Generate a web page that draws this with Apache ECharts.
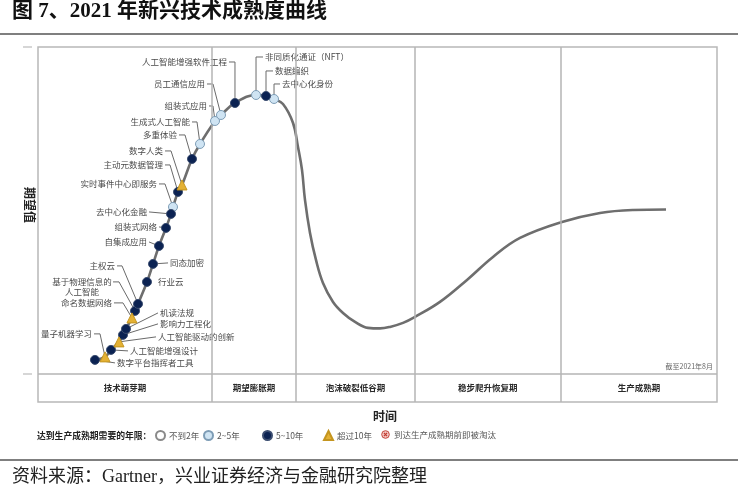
<!DOCTYPE html>
<html>
<head>
<meta charset="utf-8">
<script src="https://cdn.jsdelivr.net/npm/echarts@6/dist/echarts.min.js"></script>
<style>
  html, body { margin: 0; padding: 0; background: #fff; }
  #chart { width: 738px; height: 488px; }
</style>
</head>
<body>
<div id="chart"></div>
<script>
// Technologies on the 2021 hype cycle (time = x, expectation = y, both on a 0-100 scale)
const techNames = ['数字平台指挥者工具', '量子机器学习', '人工智能增强设计', '人工智能驱动的创新', '影响力工程化',
  '机读法规', '命名数据网络', '基于物理信息的人工智能', '主权云', '行业云', '同态加密', '自集成应用', '组装式网络',
  '去中心化金融', '实时事件中心即服务', '主动元数据管理', '数字人类', '多重体验', '生成式人工智能', '组装式应用',
  '员工通信应用', '人工智能增强软件工程', '非同质化通证（NFT）', '数据编织', '去中心化身份'];
const techX = [8.39, 9.87, 10.75, 11.93, 12.52, 12.96, 13.84, 14.29, 14.73, 16.05, 16.94, 17.82, 18.85,
  19.59, 19.88, 20.62, 21.21, 22.68, 23.86, 26.07, 26.95, 29.01, 32.11, 33.58, 34.76];
const techY = [4.28, 5.20, 7.34, 9.79, 11.93, 13.76, 17.13, 19.27, 21.41, 28.13, 33.64, 39.14, 44.65,
  48.93, 51.07, 55.66, 57.80, 65.75, 70.34, 77.37, 79.20, 82.87, 85.32, 85.02, 84.10];
// index into maturityLabels
const techCat = [2, 3, 2, 3, 2, 2, 3, 2, 2, 2, 2, 2, 2, 2, 1, 2, 3, 2, 1, 1, 1, 2, 1, 2, 1];
const maturityLabels = ['不到2年', '2~5年', '5~10年', '超过10年', '到达生产成熟期前即被淘汰'];

// The hype curve itself
const curveX = [8.39, 9.87, 10.75, 11.93, 12.52, 12.96, 13.84, 14.29, 14.73, 16.05, 16.94, 17.82, 18.85,
  19.59, 19.88, 20.62, 21.21, 22.68, 23.86, 26.07, 26.95, 29.01, 32.11, 33.58, 34.76,
  36.08, 37.56, 38.29, 38.88, 39.32, 40.06, 40.94, 41.97, 43.45, 44.92, 46.69,
  48.60, 50.37, 51.84, 53.76, 55.52, 59.20, 63.18, 67.01, 70.99,
  77.17, 82.77, 87.63, 92.49];
const curveY = [4.28, 5.20, 7.34, 9.79, 11.93, 13.76, 17.13, 19.27, 21.41, 28.13, 33.64, 39.14, 44.65,
  48.93, 51.07, 55.66, 57.80, 65.75, 70.34, 77.37, 79.20, 82.87, 85.32, 85.02, 84.10,
  82.57, 76.76, 69.42, 62.39, 53.21, 43.12, 34.86, 27.83, 22.02, 18.65, 15.90,
  14.07, 13.91, 14.37, 15.60, 17.43, 22.02, 28.75, 35.78, 41.59,
  46.48, 49.24, 50.15, 50.31];

// Phases along the time axis
const phaseNames = ['技术萌芽期', '期望膨胀期', '泡沫破裂低谷期', '稳步爬升恢复期', '生产成熟期'];
const phaseEdges = [0, 25.6, 38.0, 55.5, 77.0, 100];

// Label placement, in pixels relative to each marker: text anchor, alignment, leader line bends
const labelLayout = [
  { t: [22, 3], a: 'left', path: [[20, 3]] },
  { t: [-13, -23], a: 'right', path: [[-11, -23], [-5, -23]] },
  { t: [19, 1], a: 'left', path: [[17, 1]] },
  { t: [39, -5], a: 'left', path: [[37, -5]] },
  { t: [37, -11], a: 'left', path: [[35, -11]] },
  { t: [34, -16], a: 'left', path: [[32, -16]] },
  { t: [-20, -15], a: 'right', path: [[-18, -15], [-9, -15]] },
  { t: [-53, -24], a: 'center', br: 7, path: [[-22, -29], [-16, -29]] },
  { t: [-23, -38], a: 'right', path: [[-21, -38], [-16, -38]] },
  { t: [11, 0], a: 'left', path: [] },
  { t: [17, -1], a: 'left', path: [[15, -1]] },
  { t: [-12, -4], a: 'right', path: [[-10, -4]] },
  { t: [-9, -1], a: 'right', path: [[-7, -1]] },
  { t: [-24, -2], a: 'right', path: [[-22, -2]] },
  { t: [-16, -23], a: 'right', path: [[-14, -23], [-8, -23]] },
  { t: [-15, -27], a: 'right', path: [[-13, -27], [-8, -27]] },
  { t: [-19, -34], a: 'right', path: [[-17, -34], [-11, -34]] },
  { t: [-15, -24], a: 'right', path: [[-13, -24], [-7, -24]] },
  { t: [-10, -22], a: 'right', path: [[-8, -22], [-3, -22]] },
  { t: [-8, -15], a: 'right', path: [[-6, -15], [-2, -15]] },
  { t: [-16, -31], a: 'right', path: [[-14, -31], [-8, -31]] },
  { t: [-8, -41], a: 'right', path: [[-6, -41], [0, -41]] },
  { t: [9, -38], a: 'left', path: [[7, -38], [0, -38]] },
  { t: [9, -25], a: 'left', path: [[7, -25], [0, -25]] },
  { t: [8, -15], a: 'left', path: [[6, -15], [0, -15]] }
];

const CJK = '"Noto Sans CJK SC", "Noto Sans", sans-serif';
const SERIF_CJK = '"Liberation Serif", "Noto Sans CJK SC", serif';

const markerStyles = [
  { symbol: 'circle', size: 9, color: '#ffffff', borderColor: '#8a8a8a' },
  { symbol: 'circle', size: 9, color: '#cfe4f3', borderColor: '#7e9db6' },
  { symbol: 'circle', size: 9, color: '#0b2252', borderColor: '#3b4d70' },
  { symbol: 'triangle', size: 10, color: '#e4b134', borderColor: '#c4951f' },
  { symbol: 'circle', size: 9, color: '#d9534f', borderColor: '#a8322e' }
];

const eliminatedIcon = 'image://data:image/svg+xml;utf8,' + encodeURIComponent(
  '<svg xmlns="http://www.w3.org/2000/svg" width="20" height="20">' +
  '<circle cx="10" cy="10" r="8.5" fill="#f3c6c4" stroke="#c0392b" stroke-width="2"/>' +
  '<path d="M6.5 6.5L13.5 13.5M13.5 6.5L6.5 13.5" stroke="#c0392b" stroke-width="2.6"/></svg>');

const chart = echarts.init(document.getElementById('chart'), null, { renderer: 'canvas' });

const markerSeries = maturityLabels.map(function (name, c) {
  const st = markerStyles[c];
  const data = [];
  techNames.forEach(function (n, i) {
    if (techCat[i] === c) data.push({ name: n, value: [techX[i], techY[i]] });
  });
  return {
    name: name,
    type: 'scatter',
    data: data,
    symbol: st.symbol,
    symbolSize: st.size,
    z: 5,
    silent: true,
    itemStyle: { color: st.color, borderColor: st.borderColor, borderWidth: 1, opacity: 1 }
  };
});

// one legend per entry so each sits at its own spot on the legend row
const legendLefts = [155, 203, 262, 323, 381];
const legends = maturityLabels.map(function (name, c) {
  return {
    data: [c === 4 ? { name: name, icon: eliminatedIcon } : { name: name, icon: markerStyles[c].symbol }],
    left: legendLefts[c],
    top: 430,
    padding: 0,
    itemWidth: 9,
    itemHeight: 9,
    itemGap: 0,
    selectedMode: false,
    textStyle: { fontSize: 8.5, color: '#555', fontFamily: CJK, padding: [0, 0, 0, -1] }
  };
});

const option = {
  animation: false,
  backgroundColor: '#ffffff',
  grid: {
    left: 38, right: 21, top: 47, bottom: 86,
    show: true, borderColor: '#b8b8b8', borderWidth: 1.5, backgroundColor: 'transparent'
  },
  xAxis: { type: 'value', min: 0, max: 100, show: false },
  yAxis: { type: 'value', min: -8.6, max: 100, show: false },
  legend: legends,
  series: [
    {
      name: 'curve',
      type: 'line',
      data: curveX.map(function (x, i) { return [x, curveY[i]]; }),
      smooth: 0.4,
      showSymbol: false,
      symbol: 'none',
      silent: true,
      z: 3,
      lineStyle: { color: '#6e6e6e', width: 2.6 },
      markLine: {
        silent: true,
        symbol: 'none',
        label: { show: false },
        lineStyle: { color: '#b5b5b5', type: 'solid', width: 1.5 },
        data: phaseEdges.slice(1, -1).map(function (v) { return { xAxis: v }; }).concat([{ yAxis: 0 }])
      }
    },
    {
      name: 'labels',
      type: 'custom',
      silent: true,
      z: 2,
      data: techX.map(function (x, i) { return [x, techY[i]]; }),
      encode: { x: 0, y: 1 },
      renderItem: function (params, api) {
        const i = params.dataIndex;
        const p = api.coord([api.value(0), api.value(1)]);
        const L = labelLayout[i];
        const children = [];
        if (L.path.length) {
          const pts = L.path.map(function (o) { return [p[0] + o[0], p[1] + o[1]]; }).concat([p]);
          children.push({
            type: 'polyline',
            shape: { points: pts },
            style: { stroke: '#6a6a6a', lineWidth: 1, fill: null }
          });
        }
        const name = techNames[i];
        const text = L.br ? name.slice(0, L.br) + '\n' + name.slice(L.br) : name;
        children.push({
          type: 'text',
          x: p[0] + L.t[0],
          y: p[1] + L.t[1],
          style: {
            text: text, align: L.a, verticalAlign: 'middle', fontSize: 8.5, lineHeight: 10,
            fill: '#4a4a4a', fontFamily: CJK
          }
        });
        return { type: 'group', children: children };
      }
    },
    {
      name: 'phases',
      type: 'custom',
      silent: true,
      z: 2,
      data: phaseNames.map(function (n, i) { return [(phaseEdges[i] + phaseEdges[i + 1]) / 2, -4.3]; }),
      encode: { x: 0, y: 1 },
      renderItem: function (params, api) {
        const p = api.coord([api.value(0), api.value(1)]);
        return {
          type: 'text', x: p[0], y: p[1],
          style: {
            text: phaseNames[params.dataIndex], align: 'center', verticalAlign: 'middle',
            fontSize: 8.5, fontWeight: 'bold', fill: '#2a2a2a', fontFamily: CJK
          }
        };
      }
    }
  ].concat(markerSeries),
  graphic: [
    { type: 'text', left: 12, top: 1, style: { text: '图 7、2021 年新兴技术成熟度曲线', fontSize: 21, fontWeight: 'bold', fill: '#111', fontFamily: SERIF_CJK } },
    { type: 'line', shape: { x1: 0, y1: 34, x2: 738, y2: 34 }, style: { stroke: '#555', lineWidth: 1.5 } },
    { type: 'line', shape: { x1: 23, y1: 47, x2: 32, y2: 47 }, style: { stroke: '#c8c8c8', lineWidth: 1.5 } },
    { type: 'line', shape: { x1: 23, y1: 374, x2: 32, y2: 374 }, style: { stroke: '#c8c8c8', lineWidth: 1.5 } },
    { type: 'text', x: 30, y: 205, rotation: -Math.PI / 2, style: { text: '期望值', align: 'center', verticalAlign: 'middle', fontSize: 12, fontWeight: 'bold', fill: '#222', fontFamily: CJK } },
    { type: 'text', x: 713, y: 366, style: { text: '截至2021年8月', align: 'right', verticalAlign: 'middle', fontSize: 7, fill: '#666', fontFamily: CJK } },
    { type: 'text', x: 385, y: 416, style: { text: '时间', align: 'center', verticalAlign: 'middle', fontSize: 12, fontWeight: 'bold', fill: '#222', fontFamily: CJK } },
    { type: 'text', x: 37, y: 436, style: { text: '达到生产成熟期需要的年限：', align: 'left', verticalAlign: 'middle', fontSize: 8.8, fontWeight: 'bold', fill: '#222', fontFamily: CJK } },
    { type: 'line', shape: { x1: 0, y1: 460, x2: 738, y2: 460 }, style: { stroke: '#555', lineWidth: 1.5 } },
    { type: 'text', x: 12, y: 477, style: { text: '资料来源：Gartner，兴业证券经济与金融研究院整理', align: 'left', verticalAlign: 'middle', fontSize: 18, fill: '#222', fontFamily: SERIF_CJK } }
  ]
};

chart.setOption(option);
</script>
</body>
</html>
